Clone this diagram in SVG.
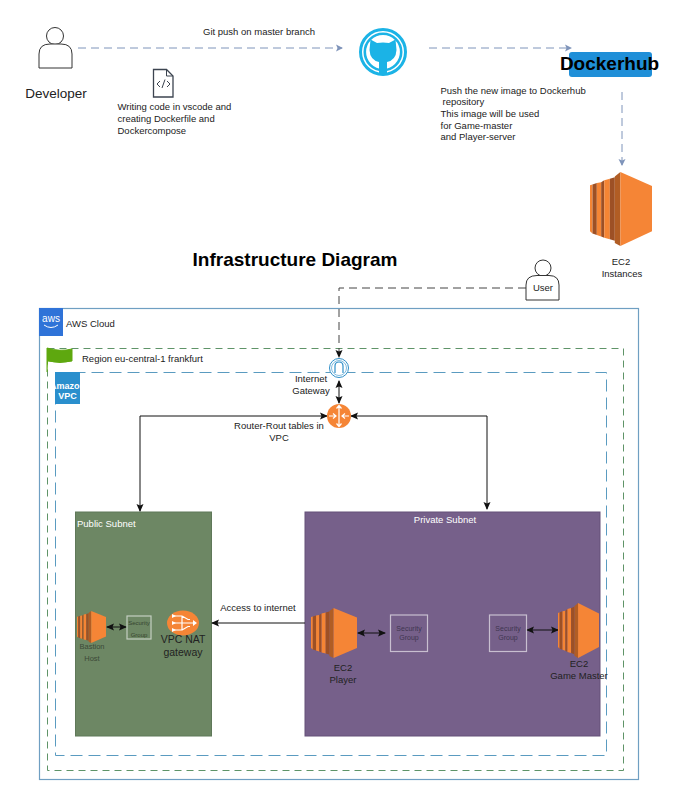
<svg xmlns="http://www.w3.org/2000/svg" xmlns:xlink="http://www.w3.org/1999/xlink" width="697" height="795" viewBox="0 0 697 795">
<style>
text{font-family:"Liberation Sans",Arial,sans-serif;font-size:9.500px;fill:#222}
.m{text-anchor:middle}
.dash{fill:none;stroke:#7f94ba;stroke-width:1;stroke-dasharray:8 5}
.con{fill:none;stroke:#111;stroke-width:1}
.person{fill:#fff;stroke:#333;stroke-width:1}
.sg{fill:none;stroke:#fff;stroke-opacity:.6;stroke-width:1.2}
.sgt{font-size:7px;fill:#3f3550}
</style>
<defs>
<marker id="ab" markerWidth="8" markerHeight="8" refX="6" refY="4" orient="auto" markerUnits="userSpaceOnUse"><path d="M0 0.5L7 4L0 7.5L1.5 4Z" fill="#7f94ba"/></marker>
<marker id="ak" markerWidth="9" markerHeight="9" refX="7" refY="4.5" orient="auto-start-reverse" markerUnits="userSpaceOnUse"><path d="M0 1L8 4.5L0 8L1.5 4.5Z" fill="#111"/></marker>
<symbol id="ec2" viewBox="0 0 100 100" preserveAspectRatio="none">
<path d="M0 18L4 17V83L0 80Z" fill="#f58534"/><path d="M4 17L11 15V85L4 83Z" fill="#9d5025"/>
<path d="M11 15L18 14V87L11 85Z" fill="#f58534"/><path d="M18 14L23 11V89L18 87Z" fill="#9d5025"/>
<path d="M23 11L32 9V91L23 89Z" fill="#f58534"/><path d="M32 9L40 7V93L32 91Z" fill="#9d5025"/>
<path d="M40 6L49 0V100L40 96Z" fill="#b15d24"/>
<path d="M49 0L100 19V80L49 100Z" fill="#f58536"/>
</symbol>
</defs>
<rect width="697" height="795" fill="#fff"/>

<g id="aws-cloud">
<rect x="39.500" y="308.500" width="599" height="471" fill="#fff" stroke="#6f9fc2" stroke-width="1.200"/>
<rect x="39" y="308" width="24" height="28" fill="#2f73d8"/>
<text x="51" y="322" class="m" style="font-size:10px;fill:#fff">aws</text>
<path d="M44 325Q51 330 58 325" fill="none" stroke="#fff"/>
<text x="66" y="327">AWS Cloud</text>
</g>
<g id="region">
<rect x="47.500" y="348.500" width="576" height="422" fill="none" stroke="#5f9468" stroke-dasharray="7 5"/>
<path d="M47 372V348Q60 352 72 349V361Q60 364 48 361" fill="#5ea80f" stroke="#5ea80f"/>
<text x="82" y="362">Region eu-central-1 frankfurt</text>
</g>
<g id="vpc">
<rect x="55.500" y="372.500" width="551" height="383" fill="none" stroke="#5a9bc0" stroke-dasharray="12 6"/>
<rect x="55" y="372" width="25" height="32" fill="#2a8fcd"/>
<text x="67.500" y="389" class="m" style="font-size:9px;font-weight:bold;fill:#fff">Amazon</text>
<text x="67.500" y="399" class="m" style="font-size:9px;font-weight:bold;fill:#fff">VPC</text>
</g>

<g id="public-subnet">
<rect x="75.500" y="512" width="136" height="224" fill="#6d8764" stroke="#5f7859"/>
<text x="77" y="527" style="fill:#fff">Public Subnet</text>
</g>
<g id="private-subnet">
<rect x="305" y="512" width="295" height="224" fill="#76608a" stroke="#655079"/>
<text x="445" y="523" class="m" style="fill:#fff">Private Subnet</text>
</g>

<g id="connectors">
<path class="dash" d="M78 48H342" marker-end="url(#ab)"/>
<path class="dash" d="M429 48H571" marker-end="url(#ab)"/>
<path class="dash" d="M622 92V165" marker-end="url(#ab)"/>
<path class="con" d="M526 288H339V357" stroke-dasharray="8 5" style="stroke:#444" marker-end="url(#ak)"/>
<path class="con" d="M339 381V403" marker-start="url(#ak)" marker-end="url(#ak)"/>
<path class="con" d="M327 416H140V511" marker-start="url(#ak)" marker-end="url(#ak)"/>
<path class="con" d="M351 416H487V509" marker-start="url(#ak)" marker-end="url(#ak)"/>
<path class="con" d="M305 623H212" marker-end="url(#ak)"/>
<path class="con" d="M107 627H126" marker-start="url(#ak)" marker-end="url(#ak)"/>
<path class="con" d="M358 633H385" marker-start="url(#ak)" marker-end="url(#ak)"/>
<path class="con" d="M527 630H558" marker-start="url(#ak)" marker-end="url(#ak)"/>
</g>
<g id="connector-labels">
<text x="259" y="35" class="m">Git push on master branch</text>
<text x="258" y="610.500" class="m">Access to internet</text>
<text x="279" y="429" class="m">Router-Rout tables in</text>
<text x="279" y="441" class="m">VPC</text>
</g>

<g id="developer">
<circle cx="55" cy="36" r="8.500" class="person"/>
<path class="person" d="M39 68V54Q39 44 50 44H61Q72 44 72 54V68Z"/>
<text x="56" y="97.500" class="m" style="font-size:13.500px">Developer</text>
</g>
<g id="code-file">
<path d="M153.500 69.500H166.500L173 76V97H153.500Z" fill="#fff" stroke="#3c4450" stroke-width="1.300"/>
<path d="M166.500 69.500V76H173" fill="none" stroke="#3c4450"/>
<path d="M160 81L157 84L160 87M167 81L170 84L167 87M165 79.500L162 88" fill="none" stroke="#3c4450"/>
<text x="117.500" y="109.500">Writing code in vscode and</text>
<text x="117.500" y="121.500">creating Dockerfile and</text>
<text x="117.500" y="133.500">Dockercompose</text>
</g>
<g id="github">
<circle cx="383" cy="52" r="22.500" fill="none" stroke="#1bb3e6" stroke-width="3"/>
<circle cx="383" cy="52" r="18.200" fill="none" stroke="#1bb3e6" stroke-width="2.600"/>
<path d="M370.500 39.500L377 43Q383 42 389 43L395.500 39.500L396.500 50Q396 60 387 62V75H379V62Q370 60 369.500 50Z" fill="#1bb3e6"/>
</g>
<g id="dockerhub">
<rect x="569" y="52" width="83" height="25" rx="3" fill="#1f8fd8"/>
<text x="609.500" y="70" class="m" style="font-size:19px;font-weight:bold;fill:#000">Dockerhub</text>
<text x="440.500" y="94">Push the new image to Dockerhub</text>
<text x="442.500" y="105">repository</text>
<text x="440.500" y="117">This image will be used</text>
<text x="440.500" y="129">for Game-master</text>
<text x="440.500" y="140">and Player-server</text>
</g>
<g id="ec2-instances">
<use xlink:href="#ec2" href="#ec2" x="590" y="172" width="62" height="74"/>
<text x="621" y="265" class="m">EC2</text>
<text x="622" y="277" class="m">Instances</text>
</g>
<text id="title" x="295" y="266" class="m" style="font-size:19px;font-weight:bold;fill:#000">Infrastructure Diagram</text>
<g id="user">
<circle cx="543" cy="268" r="8" class="person"/>
<path class="person" d="M526 300V285Q526 275.500 537 275.500H549Q559 275.500 559 285V300Z"/>
<text x="543" y="291" class="m">User</text>
</g>
<g id="internet-gateway">
<circle cx="339" cy="368" r="9.500" fill="#fff" stroke="#2f8fc8"/>
<circle cx="339" cy="368" r="7.500" fill="none" stroke="#2f8fc8" stroke-width=".6"/>
<path d="M335 373V366Q335 362 339 362Q343 362 343 366V373" fill="none" stroke="#2f8fc8" stroke-width="1.200"/>
<text x="311" y="381.500" class="m">Internet</text>
<text x="311" y="393.500" class="m">Gateway</text>
</g>
<g id="router">
<circle cx="339" cy="416" r="12" fill="#f58536"/>
<path d="M339 406V426M329 416H336M342 416H349M336.500 408.500L339 405.500L341.500 408.500M336.500 423.500L339 426.500L341.500 423.500M333 413.500L336 416L333 418.500M345 413.500L342 416L345 418.500" fill="none" stroke="#fff" stroke-width="1.200"/>
</g>
<g id="bastion-host">
<use xlink:href="#ec2" href="#ec2" x="77" y="611" width="29" height="32"/>
<text x="92" y="649" class="m" style="font-size:7.500px;fill:#3c4a38">Bastion</text>
<text x="92" y="661" class="m" style="font-size:7.500px;fill:#3c4a38">Host</text>
</g>
<g id="public-security-group">
<rect x="127" y="616" width="24" height="23" class="sg"/>
<text x="139" y="625" class="m" style="font-size:6px;fill:#36452f">Security</text>
<text x="139" y="637" class="m" style="font-size:6px;fill:#36452f">Group</text>
</g>
<g id="nat-gateway">
<ellipse cx="183" cy="623" rx="16" ry="12.500" fill="#f58536"/>
<path d="M174 616H182V630H174M174 623H195M182 616L188 619.500H190M182 630L188 626.500H190" fill="none" stroke="#fff" stroke-width="1.200"/>
<path d="M193 620L197 623L193 626ZM172 614L176 616L172 618ZM172 621L176 623L172 625ZM172 628L176 630L172 632Z" fill="#fff"/>
<text x="183" y="643" class="m" style="font-size:10.500px">VPC NAT</text>
<text x="183" y="655.500" class="m" style="font-size:10.500px">gateway</text>
</g>
<g id="ec2-player">
<use xlink:href="#ec2" href="#ec2" x="311" y="608" width="46" height="50"/>
<text x="343" y="671" class="m">EC2</text>
<text x="343" y="683" class="m">Player</text>
</g>
<g id="player-security-group">
<rect x="390.500" y="615" width="37" height="36.500" class="sg"/>
<text x="409" y="631" class="m sgt">Security</text>
<text x="409" y="640" class="m sgt">Group</text>
</g>
<g id="master-security-group">
<rect x="489.500" y="615" width="37" height="36.500" class="sg"/>
<text x="508" y="631" class="m sgt">Security</text>
<text x="508" y="640" class="m sgt">Group</text>
</g>
<g id="ec2-game-master">
<use xlink:href="#ec2" href="#ec2" x="558" y="603" width="41" height="55"/>
<text x="579" y="667" class="m">EC2</text>
<text x="579" y="679" class="m">Game Master</text>
</g>
</svg>
